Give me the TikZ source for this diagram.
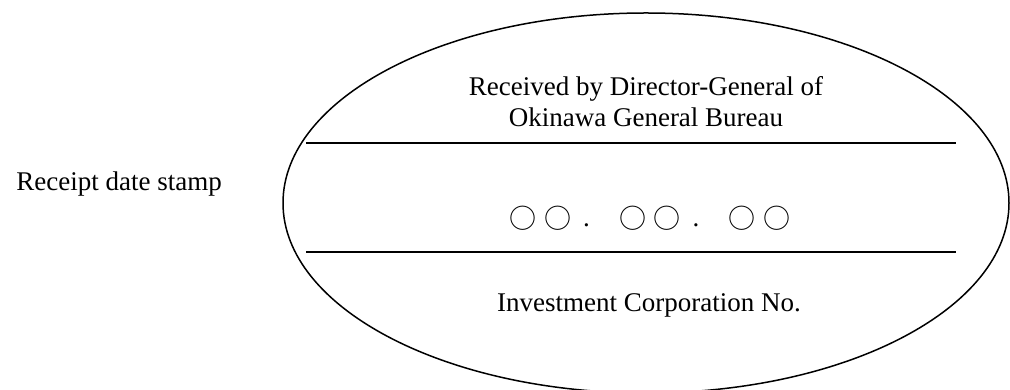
\documentclass[tikz,border=0pt]{standalone}
\usepackage{fontspec}
\setmainfont{Liberation Serif}
\newfontfamily\cjkfont{Noto Sans CJK JP}
\newcommand\stampcirc{\makebox[35pt][c]{\raisebox{-2pt}{\cjkfont\fontsize{27}{27}\selectfont ○}}}
\newcommand\stampdot{\makebox[22pt][c]{.}\hspace{17.5pt}}
\begin{document}
\begin{tikzpicture}[x=1pt,y=1pt,
  txt/.style={inner sep=0pt, font=\fontsize{27}{30}\selectfont},
  rule/.style={line width=1.4pt},
  stamp/.style={line width=1.5pt}]
\useasboundingbox (0,0) rectangle (1010,390);
\clip (0,0) rectangle (1010,390);
\draw[stamp] (646,187) ellipse [x radius=363pt, y radius=190pt];
\coordinate (l1a) at (306,247);
\coordinate (l1b) at (956,247);
\coordinate (l2a) at (306,138);
\coordinate (l2b) at (956,138);
\draw[rule] (l1a) -- (l1b);
\draw[rule] (l2a) -- (l2b);
\node[txt, anchor=base] (recv1) at (646,294) {Received by Director-General of};
\node[txt, anchor=base] (recv2) at (646,263) {Okinawa General Bureau};
\node[txt, anchor=base] (date) at (650,163) {\stampcirc\stampcirc\stampdot\stampcirc\stampcirc\stampdot\stampcirc\stampcirc};
\node[txt, anchor=base] (invest) at (649,78) {Investment Corporation No.};
\node[txt, anchor=base east] (label) at (222,199) {Receipt date stamp};
\end{tikzpicture}
\end{document}
